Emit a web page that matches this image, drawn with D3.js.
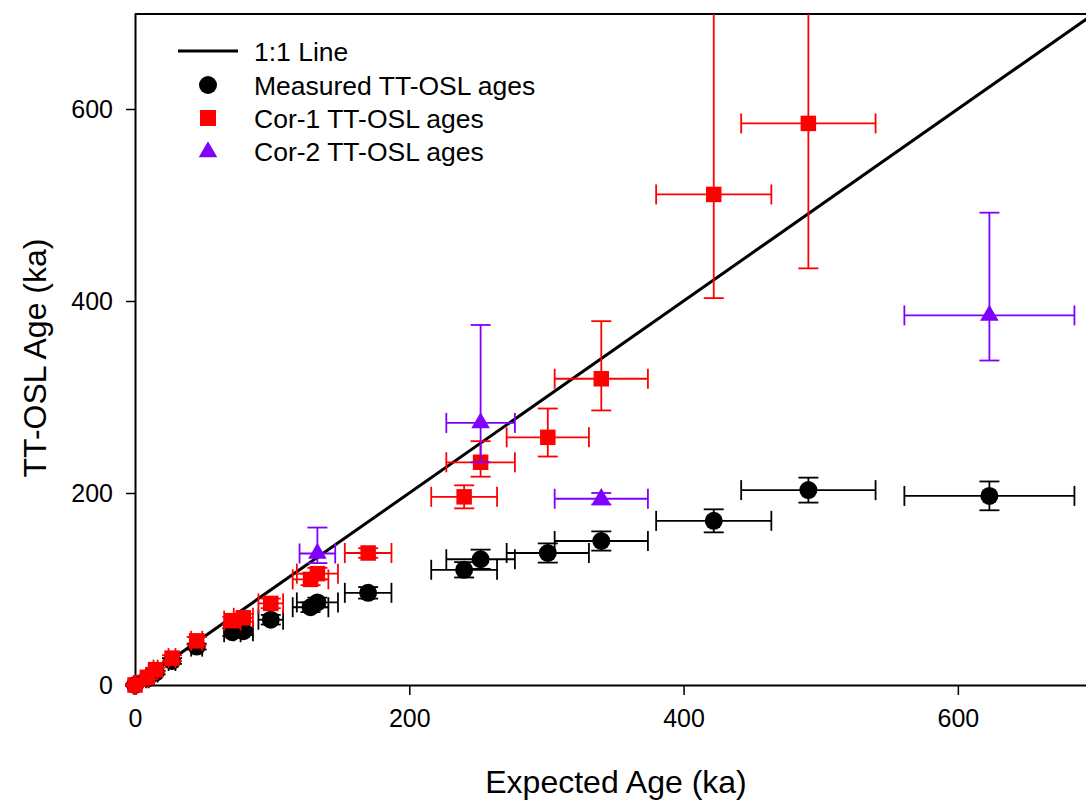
<!DOCTYPE html>
<html>
<head>
<meta charset="utf-8">
<script src="https://cdn.jsdelivr.net/npm/d3@7"></script>
<style>
  html, body { margin: 0; padding: 0; background: #fff; }
  svg { display: block; font-family: "Liberation Sans", Arial, sans-serif; }
</style>
</head>
<body>
<svg id="chart" width="1086" height="800"></svg>
<script>
// ---------------- DATA ----------------
const xTicks = [0, 200, 400, 600];
const yTicks = [0, 200, 400, 600];

// Expected ages (ka) of the samples and their uncertainty
const expectedAge = [0, 9, 15, 27, 45, 71, 79, 99, 128, 133, 170, 240, 252, 301, 340, 422, 491, 623];
const expectedErr = [0.5, 1, 1.5, 2.5, 4, 6, 7, 9, 13, 15, 17, 24, 25, 30, 34, 42, 49, 62];

// Measured TT-OSL ages
const measuredAge = [0, 7, 13, 25, 40, 55, 56, 68, 81, 86, 96, 120, 131, 137.5, 150, 171, 203, 197];
const measuredErr = [1, 2, 2, 3, 3, 4, 4, 5, 5, 5, 6, 8, 10, 10, 10, 12, 13, 15];

// Cor-1 TT-OSL ages (asymmetric errors)
const cor1Age     = [0, 8, 16, 28, 46, 67, 70, 85, 110, 116, 137.5, 196, 232, 258, 319, 511, 585, null];
const cor1ErrLow  = [1, 2, 2, 3, 4, 4, 4, 5, 6, 6, 5, 12, 15, 20, 33, 108, 151, null];
const cor1ErrHigh = [1, 2, 2, 3, 4, 4, 4, 5, 6, 6, 5, 12, 22, 30, 60, 400, 400, null];

// Cor-2 TT-OSL ages
const cor2Expected    = [133, 252, 340, 623];
const cor2ExpectedErr = [13, 25, 34, 62];
const cor2Age     = [137, 273, 194, 385];
const cor2ErrLow  = [10, 41, 6, 47];
const cor2ErrHigh = [27, 102, 6, 107];

const legendLabels = ["1:1 Line", "Measured TT-OSL ages", "Cor-1 TT-OSL ages", "Cor-2 TT-OSL ages"];
const colors = { measured: "#000000", cor1: "#FF0000", cor2: "#7F00FF" };

// ---------------- CHART ----------------
const svg = d3.select("#chart");
const mLeft = 135, mTop = 13, mBottom = 685, mRight = 1095;

const x = d3.scaleLinear().domain([0, 700]).range([mLeft, mRight]);
const y = d3.scaleLinear().domain([0, 700]).range([mBottom, mTop]);

svg.append("defs").append("clipPath").attr("id", "plotclip")
  .append("rect").attr("x", 0).attr("y", mTop + 1).attr("width", 1100).attr("height", 800);

// frame top / right
svg.append("line").attr("x1", mLeft).attr("x2", mRight).attr("y1", mTop + 1).attr("y2", mTop + 1)
  .attr("stroke", "#000").attr("stroke-width", 2);
svg.append("line").attr("x1", mRight).attr("x2", mRight).attr("y1", mTop + 1).attr("y2", mBottom)
  .attr("stroke", "#000").attr("stroke-width", 2);

// axes
const xAxis = svg.append("g").attr("transform", `translate(0,${mBottom})`)
  .call(d3.axisBottom(x).tickValues(xTicks).tickSize(10).tickSizeOuter(0).tickPadding(14));
const yAxis = svg.append("g").attr("transform", `translate(${mLeft},0)`)
  .call(d3.axisLeft(y).tickValues(yTicks).tickSize(9).tickSizeOuter(0).tickPadding(13));
[xAxis, yAxis].forEach(g => {
  g.select(".domain").attr("stroke-width", 2);
  g.selectAll(".tick line").attr("stroke-width", 1.5);
  g.selectAll(".tick text").attr("font-size", 25).attr("fill", "#000")
    .attr("font-family", "'Liberation Sans', Arial, sans-serif");
});

// axis titles
svg.append("text").attr("x", 616).attr("y", 793).attr("text-anchor", "middle")
  .attr("font-size", 32).text("Expected Age (ka)");
svg.append("text").attr("transform", "translate(46,358) rotate(-90)").attr("text-anchor", "middle")
  .attr("font-size", 32).text("TT-OSL Age (ka)");

// 1:1 line
svg.append("line").attr("x1", x(0)).attr("y1", y(0)).attr("x2", x(700)).attr("y2", y(700))
  .attr("stroke", "#000").attr("stroke-width", 3);

// error bars helper
const cap = 10;
function errorBars(pts, color) {
  const g = svg.append("g").attr("clip-path", "url(#plotclip)")
    .attr("stroke", color).attr("stroke-width", 1.8).attr("fill", "none");
  pts.forEach(p => {
    const cx = x(p.x), cy = y(p.y);
    const x0 = x(p.x - p.xe), x1 = x(p.x + p.xe);
    const y0 = y(p.y - p.lo), y1 = y(p.y + p.hi);
    g.append("line").attr("x1", x0).attr("x2", x1).attr("y1", cy).attr("y2", cy);
    g.append("line").attr("x1", x0).attr("x2", x0).attr("y1", cy - cap).attr("y2", cy + cap);
    g.append("line").attr("x1", x1).attr("x2", x1).attr("y1", cy - cap).attr("y2", cy + cap);
    g.append("line").attr("x1", cx).attr("x2", cx).attr("y1", y0).attr("y2", y1);
    g.append("line").attr("x1", cx - cap).attr("x2", cx + cap).attr("y1", y0).attr("y2", y0);
    g.append("line").attr("x1", cx - cap).attr("x2", cx + cap).attr("y1", y1).attr("y2", y1);
  });
}

const measuredPts = expectedAge.map((v, i) => ({ x: v, xe: expectedErr[i], y: measuredAge[i], lo: measuredErr[i], hi: measuredErr[i] }));
const cor1Pts = expectedAge.map((v, i) => ({ x: v, xe: expectedErr[i], y: cor1Age[i], lo: cor1ErrLow[i], hi: cor1ErrHigh[i] }))
  .filter(p => p.y !== null);
const cor2Pts = cor2Expected.map((v, i) => ({ x: v, xe: cor2ExpectedErr[i], y: cor2Age[i], lo: cor2ErrLow[i], hi: cor2ErrHigh[i] }));

const symCircle = d3.symbol().type(d3.symbolCircle).size(Math.PI * 9 * 9);
const symSquare = d3.symbol().type(d3.symbolSquare).size(15.5 * 15.5);
const symTri = d3.symbol().type(d3.symbolTriangle).size(150);

function markers(pts, sym, color) {
  svg.append("g").selectAll("path").data(pts).join("path")
    .attr("d", sym).attr("fill", color)
    .attr("transform", d => `translate(${x(d.x)},${y(d.y)})`);
}

errorBars(measuredPts, colors.measured);
markers(measuredPts, symCircle, colors.measured);
errorBars(cor1Pts, colors.cor1);
markers(cor1Pts, symSquare, colors.cor1);
errorBars(cor2Pts, colors.cor2);
markers(cor2Pts, symTri, colors.cor2);

// legend
const lg = svg.append("g");
const rowY = [51, 85, 118, 151];
lg.append("line").attr("x1", 178).attr("x2", 238).attr("y1", rowY[0]).attr("y2", rowY[0])
  .attr("stroke", "#000").attr("stroke-width", 3);
lg.append("path").attr("d", symCircle).attr("fill", colors.measured).attr("transform", `translate(208,${rowY[1]})`);
lg.append("path").attr("d", d3.symbol().type(d3.symbolSquare).size(16 * 16)).attr("fill", colors.cor1).attr("transform", `translate(208,${rowY[2]})`);
lg.append("path").attr("d", symTri).attr("fill", colors.cor2).attr("transform", `translate(208,${rowY[3] + 1})`);
legendLabels.forEach((t, i) => {
  lg.append("text").attr("x", 254).attr("y", rowY[i]).attr("dy", "0.36em")
    .attr("font-size", 26.5).attr("fill", "#000").text(t);
});
</script>
</body>
</html>
